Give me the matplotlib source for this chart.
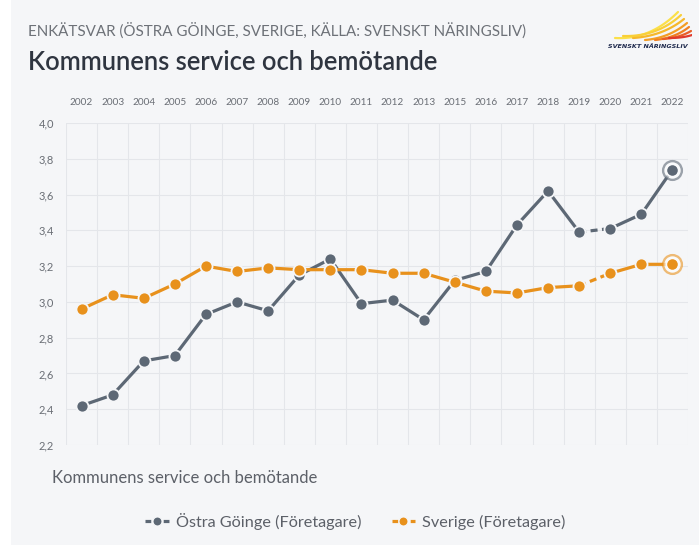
import matplotlib
matplotlib.use("Agg")
import matplotlib.pyplot as plt
from matplotlib.lines import Line2D
from matplotlib.patches import Rectangle
import numpy as np

years = ["2002", "2003", "2004", "2005", "2006", "2007", "2008", "2009", "2010", "2011",
         "2012", "2013", "2015", "2016", "2017", "2018", "2019", "2020", "2021", "2022"]
ostra_goinge = [2.42, 2.48, 2.67, 2.70, 2.93, 3.00, 2.95, 3.15, 3.24, 2.99,
                3.01, 2.90, 3.12, 3.17, 3.43, 3.62, 3.39, 3.41, 3.49, 3.74]
sverige = [2.96, 3.04, 3.02, 3.10, 3.20, 3.17, 3.19, 3.18, 3.18, 3.18,
           3.16, 3.16, 3.11, 3.06, 3.05, 3.08, 3.09, 3.16, 3.21, 3.21]
y_ticks = [2.2, 2.4, 2.6, 2.8, 3.0, 3.2, 3.4, 3.6, 3.8, 4.0]
y_tick_labels = [f"{v:.1f}".replace(".", ",") for v in y_ticks]
series_names = ["Östra Göinge (Företagare)", "Sverige (Företagare)"]
dashed_from, dashed_to = "2019", "2020"

W, H = 699, 547
BG = "#f5f6f8"
GRAY = "#5d6875"
ORANGE = "#e8911c"
FONT = "Lato"

plt.rcParams["font.family"] = [FONT, "DejaVu Sans"]

fig = plt.figure(figsize=(W / 100, H / 100), dpi=100)
fig.patch.set_facecolor("white")
fig.patches.append(Rectangle((11 / W, 0.004), 1 - 11 / W, 0.996, transform=fig.transFigure,
                             facecolor=BG, edgecolor="none", zorder=-10))

def fx(x):
    return x / W

def fy(y):
    return 1 - y / H

ax = fig.add_axes([fx(66), fy(445), fx(688) - fx(66), fy(123) - fy(445)])
ax.set_facecolor(BG)
x = np.arange(len(years))
ax.set_xlim(-0.5, len(years) - 0.5)
ax.set_ylim(y_ticks[0], y_ticks[-1])

ax.set_yticks(y_ticks)
ax.set_yticklabels(y_tick_labels)
ax.set_xticks(x)
ax.set_xticklabels(years)
ax.set_xticks(np.arange(-0.5, len(years)), minor=True)
ax.grid(axis="y", which="major", color="#e4e6ea", lw=0.8)
ax.grid(axis="x", which="minor", color="#e4e6ea", lw=0.8)
ax.set_axisbelow(True)
for s in ax.spines.values():
    s.set_visible(False)
ax.xaxis.tick_top()
ax.tick_params(axis="x", which="both", length=0, pad=11.5, labelsize=7.2, labelcolor="#6a6e75")
ax.tick_params(axis="y", which="both", length=0, pad=8.5, labelsize=8.0, labelcolor="#6a6e75")

di = years.index(dashed_from)
dj = years.index(dashed_to)

def draw_series(vals, color, z):
    vals = np.array(vals)
    ax.plot(x[:di + 1], vals[:di + 1], color=color, lw=2.3, zorder=z, solid_capstyle="butt")
    ax.plot(x[di:dj + 1], vals[di:dj + 1], color=color, lw=2.3, zorder=z, ls=(0, (2.2, 1.4)),
            dash_capstyle="butt")
    ax.plot(x[dj:], vals[dj:], color=color, lw=2.3, zorder=z, solid_capstyle="butt")
    ax.plot(x, vals, ls="none", marker="o", ms=8.7, mfc=color, mec=BG, mew=1.3, zorder=z + 0.5)
    ax.plot(x[-1:], vals[-1:], ls="none", marker="o", ms=13.5, mfc="white", mec=color,
            mew=1.7, alpha=0.6, zorder=z + 0.6, clip_on=False)
    ax.plot(x[-1:], vals[-1:], ls="none", marker="o", ms=7.5, mfc=color, mec=color, mew=0,
            zorder=z + 0.7, clip_on=False)

draw_series(ostra_goinge, GRAY, 3)
draw_series(sverige, ORANGE, 4)

fig.text(fx(28), fy(31), "ENKÄTSVAR (ÖSTRA GÖINGE, SVERIGE, KÄLLA: SVENSKT NÄRINGSLIV)",
         fontsize=10.9, color="#6d7178", va="center", ha="left")
fig.text(fx(28), fy(63), "Kommunens service och bemötande", fontsize=18.4, color="#2f3540",
         va="center", ha="left", fontweight="semibold")
fig.text(fx(52), fy(478), "Kommunens service och bemötande", fontsize=12.0, color="#5c6068",
         va="center", ha="left")

handles = [Line2D([0], [0], color=GRAY, lw=2.3, ls=(0, (1.8, 1.05)), marker="o", ms=6.5,
                  mfc=GRAY, mec=BG, mew=0.8, dash_capstyle="butt"),
           Line2D([0], [0], color=ORANGE, lw=2.3, ls=(0, (1.8, 1.05)), marker="o", ms=6.5,
                  mfc=ORANGE, mec=BG, mew=0.8, dash_capstyle="butt")]
leg = fig.legend(handles, series_names, loc="center", bbox_to_anchor=(fx(355.5), fy(521)),
                 ncol=2, frameon=False, fontsize=11.7, handlelength=1.45, handletextpad=0.45,
                 columnspacing=1.85, labelcolor="#5c6068")

# logo (approximate brand mark: swept wing of streaks)
lax = fig.add_axes([fx(605), fy(52), fx(692) - fx(605), fy(8) - fy(52)])
lax.set_xlim(0, 87)
lax.set_ylim(44, 0)
lax.axis("off")
streaks = [((10, 30), (45, 32), (73, 4), "#fbe04a"),
           ((18, 28), (52, 29), (76, 7), "#f9cf38"),
           ((28, 30), (58, 28), (79, 11), "#f6b82a"),
           ((40, 32), (64, 30), (82, 15), "#f39d24"),
           ((50, 32), (70, 30), (84, 19), "#ef8022"),
           ((58, 31), (74, 30), (86, 23), "#e95e27"),
           ((64, 30), (78, 30), (87, 27), "#e03a2c")]
t = np.linspace(0, 1, 40)
for (sx, sy), (mx, my), (ex, ey), c in streaks:
    xs = (1 - t) ** 2 * sx + 2 * (1 - t) * t * mx + t ** 2 * ex
    ys = (1 - t) ** 2 * sy + 2 * (1 - t) * t * my + t ** 2 * ey
    lax.plot(xs, ys, color=c, lw=1.6, solid_capstyle="round")
lax.text(43, 39, "SVENSKT NÄRINGSLIV", fontsize=4.6, fontweight="bold", style="italic",
         color="#1f2a4d", ha="center", va="center", family=["DejaVu Sans"])

fig.savefig("out.png", dpi=100, facecolor=fig.get_facecolor())
